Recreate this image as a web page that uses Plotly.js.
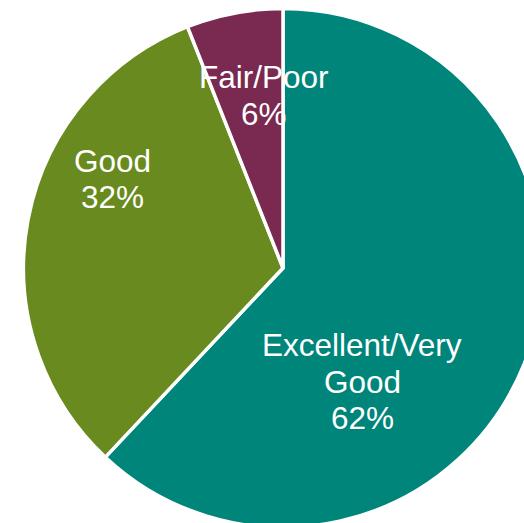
<!DOCTYPE html>
<html>
<head>
<meta charset="utf-8">
<script src="https://cdn.plot.ly/plotly-3.0.1.min.js"></script>
<style>
html, body { margin:0; padding:0; overflow:hidden; background:#ffffff; }
#chart { width:560px; height:540px; }
</style>
</head>
<body>
<div id="chart"></div>
<script>
// ---- data ----
var categories = ['Excellent/Very Good', 'Good', 'Fair/Poor'];
var values = [62, 32, 6];
var labelLines = [['Excellent/Very', 'Good'], ['Good'], ['Fair/Poor']];
var colors = ['#00857A', '#688A1E', '#7A2951'];

// ---- layout constants (pixels) ----
var W = 560, H = 540;
var cx = 283, cy = 268, R = 259.5;
var fontSize = 31.5, lineGap = 36.7;
// label anchor: centre x and baseline of first line
var labelAnchor = [[362, 356], [112, 171.7], [263.5, 88]];

var total = values.reduce(function(a, b){ return a + b; }, 0);

var trace = {
  type: 'pie',
  labels: categories,
  values: values,
  sort: false,
  direction: 'clockwise',
  rotation: 0,
  marker: { colors: colors, line: { color: '#ffffff', width: 3.5 } },
  textinfo: 'none',
  textposition: 'none',
  hoverinfo: 'none',
  showlegend: false,
  domain: {
    x: [(cx - R) / W, (cx + R) / W],
    y: [(H - (cy + R)) / H, (H - (cy - R)) / H]
  }
};

var annotations = [];
categories.forEach(function(cat, i) {
  var lines = labelLines[i].concat([Math.round(values[i] / total * 100) + '%']);
  lines.forEach(function(t, j) {
    var baseline = labelAnchor[i][1] + j * lineGap;
    var mid = baseline - 11;
    annotations.push({
      xref: 'paper', yref: 'paper',
      x: labelAnchor[i][0] / W,
      y: 1 - mid / H,
      xanchor: 'center', yanchor: 'middle',
      text: t, showarrow: false,
      font: { family: 'Liberation Sans, Arial, sans-serif', size: fontSize, color: '#ffffff' }
    });
  });
});

var layout = {
  width: W, height: H,
  margin: { l: 0, r: 0, t: 0, b: 0, pad: 0 },
  paper_bgcolor: '#ffffff',
  plot_bgcolor: '#ffffff',
  showlegend: false,
  annotations: annotations
};

Plotly.newPlot('chart', [trace], layout, { displayModeBar: false, staticPlot: true });
</script>
</body>
</html>
